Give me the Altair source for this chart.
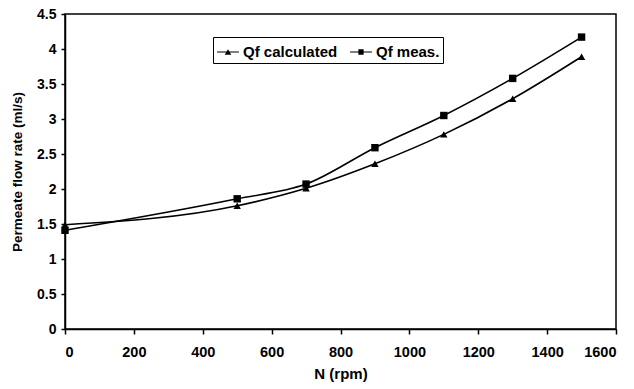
import altair as alt
import pandas as pd

rpm = [0, 500, 700, 900, 1100, 1300, 1500]
qf_calc = [1.49, 1.76, 2.01, 2.36, 2.78, 3.29, 3.89]
qf_meas = [1.41, 1.86, 2.07, 2.59, 3.05, 3.58, 4.17]
series_names = ["Qf calculated", "Qf meas."]
x_ticks = [0, 200, 400, 600, 800, 1000, 1200, 1400, 1600]
y_ticks = [0, 0.5, 1, 1.5, 2, 2.5, 3, 3.5, 4, 4.5]

rows = []
for x, v in zip(rpm, qf_calc):
    rows.append({"N": x, "Q": v, "series": series_names[0]})
for x, v in zip(rpm, qf_meas):
    rows.append({"N": x, "Q": v, "series": series_names[1]})
df = pd.DataFrame(rows)

FONT = "Liberation Sans"

x_enc = alt.X("N:Q", title="N (rpm)",
              scale=alt.Scale(domain=[0, 1600], nice=False),
              axis=alt.Axis(values=x_ticks, grid=False, format="d",
                            tickSize=5, labelPadding=11, titlePadding=8,
                            labelFontSize=14.5, titleFontSize=15))
y_enc = alt.Y("Q:Q", title="Permeate flow rate (ml/s)",
              scale=alt.Scale(domain=[0, 4.5], nice=False),
              axis=alt.Axis(values=y_ticks, grid=False,
                            tickSize=4, labelPadding=5, titlePadding=12,
                            format="~g", labelOverlap=False,
                            labelFontSize=14, titleFontSize=13.5))

base = alt.Chart(df).encode(x=x_enc, y=y_enc)

lines = base.mark_line(interpolate="monotone", color="black", strokeWidth=1.6).encode(
    detail="series:N")

pts_calc = base.transform_filter(alt.datum.series == series_names[0]).mark_point(
    filled=True, color="black", size=55, opacity=1, shape="triangle-up")
pts_meas = base.transform_filter(alt.datum.series == series_names[1]).mark_point(
    filled=True, color="black", size=55, opacity=1, shape="square")

legend_paths = [
    "M-1,-0.035H1V0.035H-1ZM-0.3,0.26L0,-0.26L0.3,0.26Z",
    "M-1,-0.035H1V0.035H-1ZM-0.24,-0.24H0.24V0.24H-0.24Z",
]

legend_layer = base.mark_point(filled=True, fill="black", size=480, opacity=0).encode(
    shape=alt.Shape("series:N",
                    scale=alt.Scale(domain=series_names, range=legend_paths),
                    legend=alt.Legend(title=None, orient="none", direction="horizontal",
                                      legendX=148, legendY=23,
                                      symbolSize=480, symbolOpacity=1,
                                      symbolFillColor="black",
                                      labelFont=FONT, labelFontSize=15, labelFontWeight="bold",
                                      labelColor="black", labelOffset=3,
                                      columnPadding=9, padding=3,
                                      strokeColor="black", fillColor="white")))

chart = alt.layer(lines, pts_calc, pts_meas, legend_layer).properties(
    width=551, height=315,
    background="white",
    autosize=alt.AutoSizeParams(type="none"),
    padding={"left": 65, "top": 14, "right": 18, "bottom": 60},
).configure_view(stroke="black", strokeWidth=1.5).configure_axis(
    domainColor="black", domainWidth=1.5, tickColor="black", tickWidth=1.5,
    labelFont=FONT, labelFontWeight="bold", labelColor="black",
    titleFont=FONT, titleFontWeight="bold", titleColor="black",
)

chart.save("out.html", embed_options={"renderer": "svg", "actions": False})
